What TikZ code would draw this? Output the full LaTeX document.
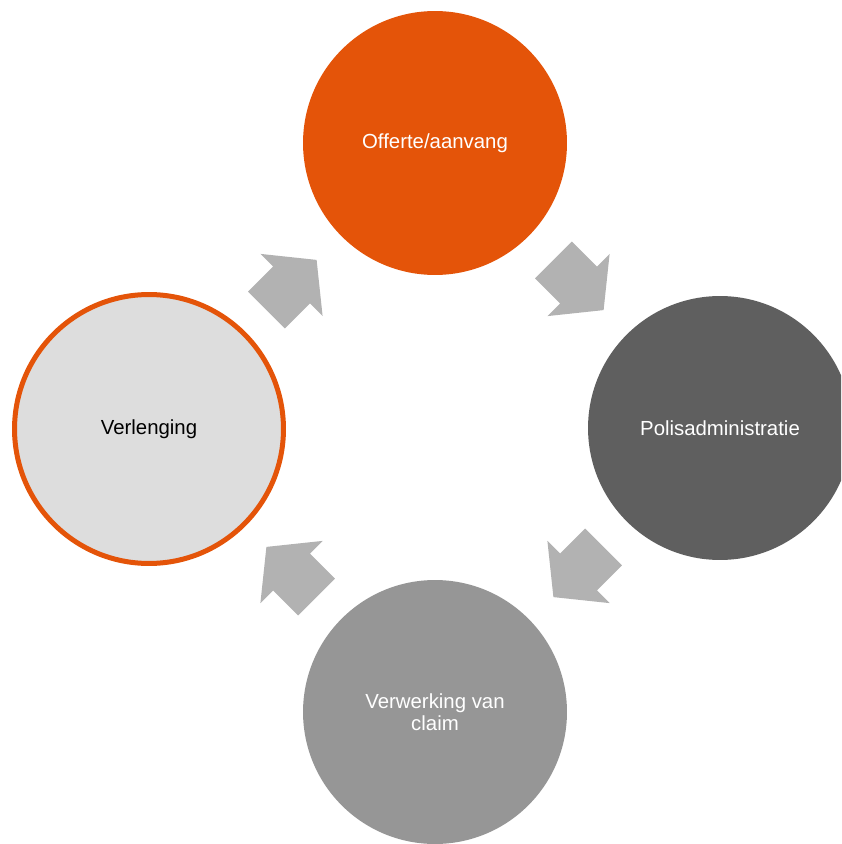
\documentclass[tikz,border=0pt]{standalone}
\usepackage{fontspec}
\setmainfont{Liberation Sans}
\usepackage{xcolor}
\usepackage{tikz}
\usetikzlibrary{positioning}

\definecolor{oranje}{RGB}{228,84,9}
\definecolor{donker}{RGB}{95,95,95}
\definecolor{middel}{RGB}{150,150,150}
\definecolor{licht}{RGB}{221,221,221}
\definecolor{pijlgrijs}{RGB}{178,178,178}

\tikzset{
	stap/.style={circle,minimum size=5.28cm,inner sep=0pt,align=center,text=white,
		font=\fontsize{11.6}{12.6}\selectfont},
	pijl/.style={fill=pijlgrijs,draw=none}
}

\begin{document}
\begin{tikzpicture}[x=0.02cm,y=-0.02cm]
		\useasboundingbox (0,0) rectangle (841,844);
		\clip (0,0) rectangle (841,844);
		% de vier stappen
		\node[stap,fill=oranje] (offerte) at (435,143) {Offerte/aanvang};
		\node[stap,fill=donker] (polis) at (720,428) {Polisadministratie};
		\node[stap,fill=middel] (claim) at (435,712) {Verwerking van\\claim};
		\node[stap,fill=licht,draw=oranje,line width=0.1cm,minimum size=5.38cm,text=black] (verlenging) at (149,429) {Verlenging};
		% pijlen tussen de stappen
		\foreach \px/\py/\hoek in {291.5/285/45, 578.5/285/-45, 578.5/572/-135, 291.5/572/135}
			\fill[pijl,shift={(\px,\py)},rotate=\hoek]
				(-35.5,-26) -- (0,-26) -- (0,-44) -- (35.5,0) -- (0,44) -- (0,26) -- (-35.5,26) -- cycle;
	\end{tikzpicture}
\end{document}
